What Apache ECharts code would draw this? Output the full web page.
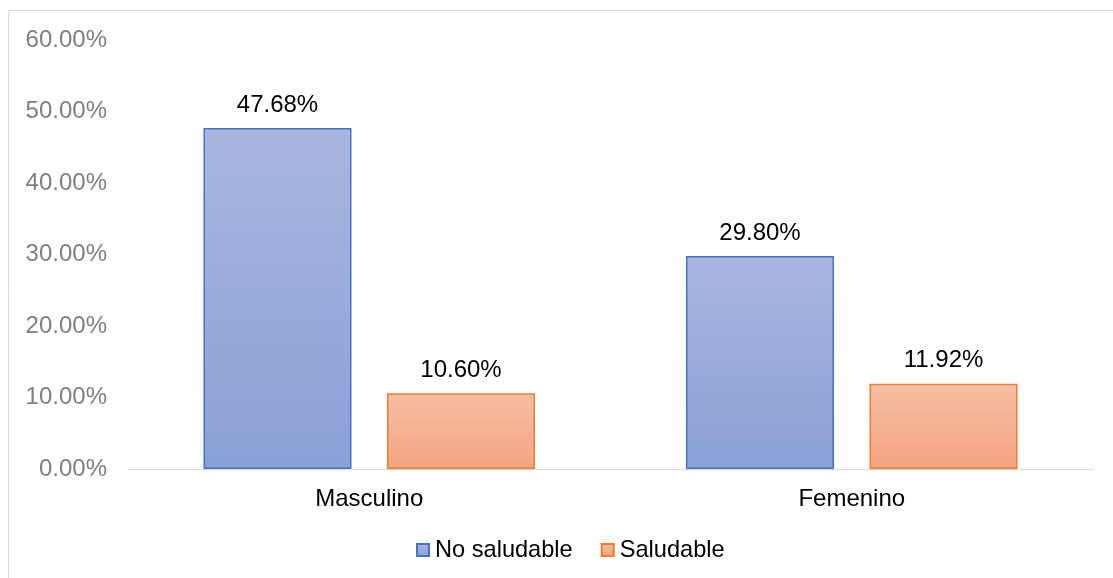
<!DOCTYPE html>
<html>
<head>
<meta charset="utf-8">
<script src="https://cdn.jsdelivr.net/npm/echarts@6/dist/echarts.min.js"></script>
<style>
html,body{margin:0;padding:0;background:#fff;}
#chart{width:1113px;height:578px;}
</style>
</head>
<body>
<div id="chart"></div>
<script>
var categories = ['Masculino', 'Femenino'];
var seriesNames = ['No saludable', 'Saludable'];
var noSaludable = [47.68, 29.80];
var saludable = [10.60, 11.92];
var yTicks = [0, 10, 20, 30, 40, 50, 60];

var chart = echarts.init(document.getElementById('chart'), null, {renderer: 'canvas'});
var FONT = '"Liberation Sans", Arial, sans-serif';

function grad(top, bottom) {
  return new echarts.graphic.LinearGradient(0, 0, 0, 1, [
    {offset: 0, color: top}, {offset: 1, color: bottom}
  ]);
}

var labelOpt = {
  show: true, position: 'top', distance: 11,
  color: '#000', fontSize: 24, fontFamily: FONT,
  formatter: function (p) { return p.value.toFixed(2) + '%'; }
};

chart.setOption({
  animation: false,
  backgroundColor: '#fff',
  graphic: [{
    type: 'rect', silent: true,
    shape: {x: 8.5, y: 10.5, width: 1200, height: 700},
    style: {fill: 'none', stroke: '#d9d9d9', lineWidth: 1}
  }],
  grid: {left: 128, right: 20, top: 40, bottom: 109, containLabel: false},
  legend: {
    data: seriesNames,
    left: 411, top: 533,
    icon: 'rect', itemWidth: 12, itemHeight: 12, itemGap: 28,
    textStyle: {color: '#000', fontSize: 23.6, fontFamily: FONT, padding: [0, 0, 0, 1]}
  },
  xAxis: {
    type: 'category', data: categories,
    axisLine: {show: true, lineStyle: {color: '#d9d9d9', width: 1}},
    axisTick: {show: false},
    axisLabel: {color: '#000', fontSize: 24, fontFamily: FONT, margin: 18}
  },
  yAxis: {
    type: 'value', min: yTicks[0], max: yTicks[yTicks.length - 1], interval: 10,
    axisLine: {show: false}, axisTick: {show: false},
    splitLine: {show: false},
    axisLabel: {color: '#7f7f7f', fontSize: 24, fontFamily: FONT, margin: 21,
      formatter: function (v) { return v.toFixed(2) + '%'; }}
  },
  series: [
    {
      name: seriesNames[0], type: 'bar', data: noSaludable,
      barWidth: 148, barGap: '24%',
      itemStyle: {color: grad('#a9b7df', '#8aa0d7'), borderColor: '#4472c4', borderWidth: 1.5},
      label: labelOpt
    },
    {
      name: seriesNames[1], type: 'bar', data: saludable,
      barWidth: 148, barGap: '24%',
      itemStyle: {color: grad('#f7bfa6', '#f4a47f'), borderColor: '#ed7d31', borderWidth: 1.5},
      label: labelOpt
    }
  ]
});
</script>
</body>
</html>
